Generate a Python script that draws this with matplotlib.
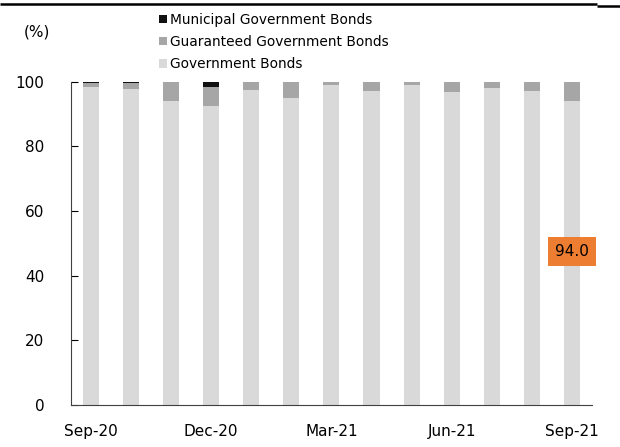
import matplotlib

matplotlib.use('Agg')

import matplotlib.pyplot as plt
from matplotlib.lines import Line2D
import numpy as np

months = ['Sep-20', 'Oct-20', 'Nov-20', 'Dec-20', 'Jan-21', 'Feb-21', 'Mar-21',
          'Apr-21', 'May-21', 'Jun-21', 'Jul-21', 'Aug-21', 'Sep-21']
government = [98.5, 97.9, 94.0, 92.5, 97.5, 95.1, 98.9, 97.3, 98.9, 96.9, 98.1, 97.2, 94.0]
guaranteed = [1.2, 1.6, 6.0, 5.8, 2.5, 4.9, 1.1, 2.7, 1.1, 3.1, 1.9, 2.8, 6.0]
municipal = [0.3, 0.5, 0.0, 1.7, 0.0, 0.0, 0.0, 0.0, 0.0, 0.0, 0.0, 0.0, 0.0]
tick_idx = [0, 3, 6, 9, 12]
callout = '94.0'

plt.rcParams['font.family'] = ['DejaVu Sans']
plt.rcParams['font.size'] = 10.5

fig = plt.figure(figsize=(6.2, 4.47), dpi=100)
ax = fig.add_axes([0.114, 0.094, 0.841, 0.723])

x = np.arange(len(months))
gov = np.array(government)
gua = np.array(guaranteed)
mun = np.array(municipal)
w = 0.4
b1 = ax.bar(x, gov, w, color='#d9d9d9', label='Government Bonds')
b2 = ax.bar(x, gua, w, bottom=gov, color='#a6a6a6', label='Guaranteed Government Bonds')
b3 = ax.bar(x, mun, w, bottom=gov + gua, color='#111111', label='Municipal Government Bonds')

ax.set_xlim(-0.5, 12.5)
ax.set_ylim(0, 100)
ax.set_yticks([0, 20, 40, 60, 80, 100])
ax.set_xticks(tick_idx)
ax.set_xticklabels([months[i] for i in tick_idx])
ax.tick_params(axis='y', direction='in', length=5, pad=19, labelsize=11)
ax.tick_params(axis='x', length=0, pad=14, labelsize=11)
for s in ['top', 'right']:
    ax.spines[s].set_visible(False)
ax.spines['left'].set_color('#404040')
ax.spines['bottom'].set_color('#404040')

ax.text(12, 47.5, callout, ha='center', va='center', fontsize=11,
        bbox=dict(boxstyle='square,pad=0.45', fc='#ed7d31', ec='none'))

fig.text(0.039, 0.928, '(%)', ha='left', va='center', fontsize=11)
fig.legend(handles=[b3, b2, b1], loc='upper left', bbox_to_anchor=(0.257, 0.971),
           frameon=False, handlelength=0.55, handleheight=0.55, handletextpad=0.2,
           labelspacing=0.6, fontsize=9.9, borderaxespad=0, borderpad=0)

fig.add_artist(Line2D([0, 0.963], [0.99, 0.99], color='black', lw=1.8,
                      solid_capstyle='butt', transform=fig.transFigure))
fig.add_artist(Line2D([0.963, 1.0], [0.986, 0.986], color='black', lw=1.8,
                      solid_capstyle='butt', transform=fig.transFigure))

fig.savefig('out.png', dpi=100)
